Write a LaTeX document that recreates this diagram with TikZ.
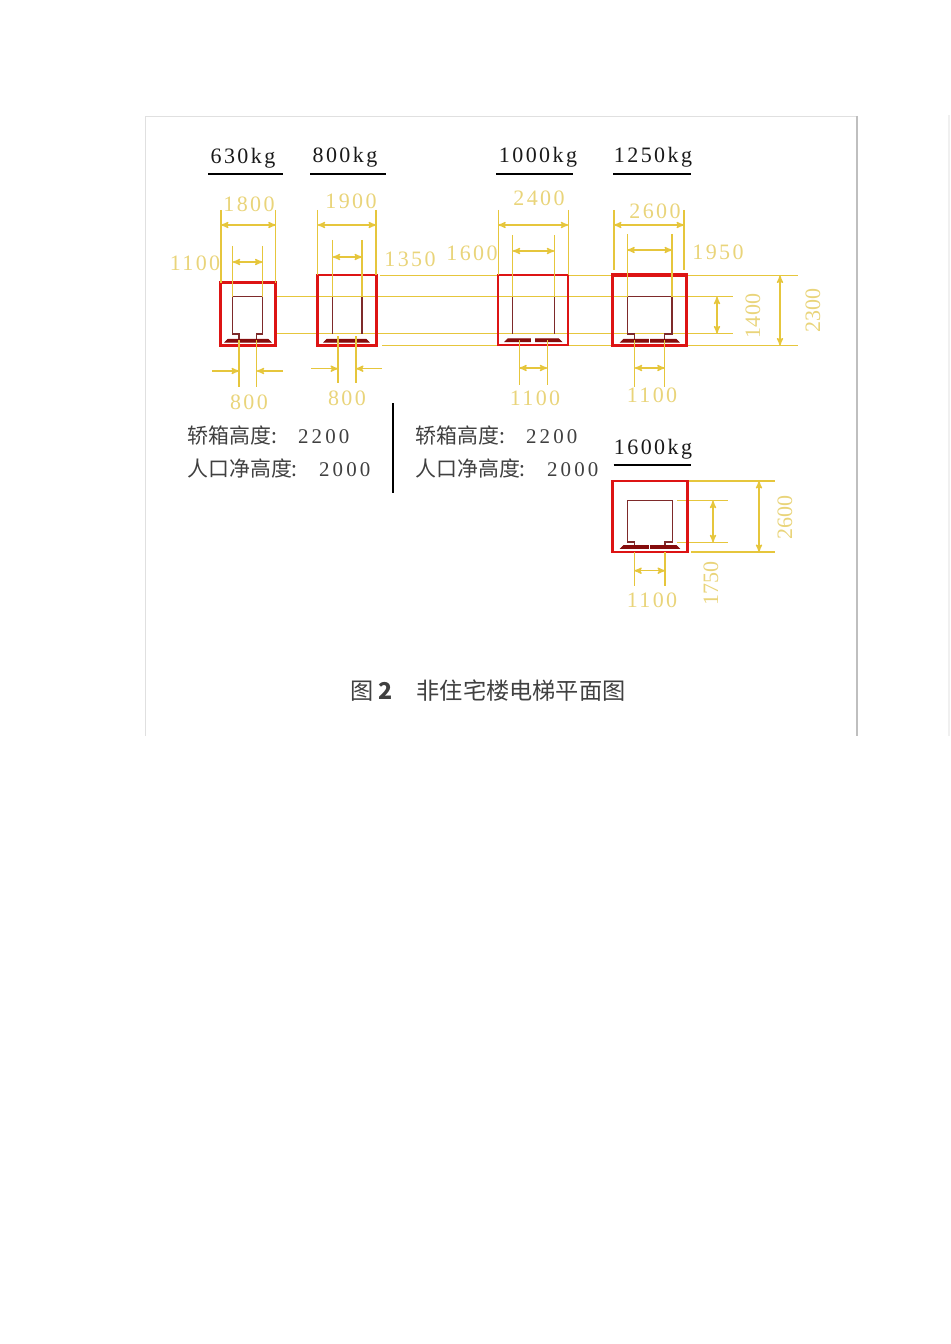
\documentclass[tikz,border=0pt]{standalone}
\usepackage{fontspec}
\setmainfont{Liberation Serif}
\newfontfamily\dimfont[LetterSpace=11]{Liberation Serif}
\newfontfamily\notefont[LetterSpace=15]{Liberation Serif}
\newfontfamily\cjk{Noto Sans CJK SC}
\usetikzlibrary{arrows}
\definecolor{dimyellow}{HTML}{E6C63C}
\definecolor{dimtext}{HTML}{E9D47A}
\definecolor{shaftred}{HTML}{DD1414}
\definecolor{cardark}{HTML}{7E2A2A}
\tikzset{>=stealth',
    dimline/.style={dimyellow, line width=1pt},
    dimarrow/.style={dimline, <->},
    dimlabel/.style={text=dimtext, font=\dimfont\fontsize{16.5}{18}\selectfont, inner sep=0pt},
    sidelabel/.style={text=dimtext, font=\fontsize{16.5}{18}\selectfont, inner sep=0pt, rotate=90},
    loadlabel/.style={text=black!90, font=\dimfont\fontsize{16.5}{18}\selectfont, inner sep=0pt},
    note/.style={text=black!75, font=\cjk\fontsize{15.7}{18}\selectfont, inner sep=0pt, anchor=west},
    shaft/.style={draw=shaftred},
    car/.style={draw=cardark, line width=1.1pt},
    sill/.style={draw=shaftred!60!black, fill=shaftred!60!black, line width=0.6pt}}

\begin{document}
\begin{tikzpicture}[x=0.75pt, y=-0.75pt]
    \useasboundingbox (0,0) rectangle (950,1344);
    \draw[black!12, line width=0.6pt] (145,736) -- (145,116) -- (857,116);
    \draw[black!25, line width=0.8pt] (857,116) -- (857,736);
    \draw[black!6, line width=0.8pt] (949,115) -- (949,736);

    % long extension lines behind the shafts
    \draw[dimline] (380,275.5) -- (798,275.5);
    \draw[dimline] (275,296.7) -- (733,296.7);
    \draw[dimline] (275,333.5) -- (733,333.5);
    \draw[dimline] (382,345.5) -- (798,345.5);
    \draw[dimline] (687,481) -- (775,481);
    \draw[dimline] (691,552) -- (775,552);
    \draw[dimline] (677,500.7) -- (728,500.7);
    \draw[dimline] (677,542.3) -- (728,542.3);

    % shaft walls and sills
    \foreach \shl/\shr/\sht/\shb/\sia/\sib/\shw in {
        220.7/275.7/282.7/345.7/225/271/2,
        317.7/376.7/275/345.7/324/369/2.2,
        498.3/568.3/275/345.3/505/561.7/1.5,
        612.7/686.7/275/345.7/620.7/679/2.4,
        612.7/687.3/481/552/620.7/679.3/2.2}{
        \draw[shaft, line width=\shw pt] (\shl,\sht) rectangle (\shr,\shb);
        \draw[sill] (\sia,\shb-3.5) -- (\sia+3,\shb-6.5) -- (\sib-3,\shb-6.5) -- (\sib,\shb-3.5) -- cycle;
    }

    % car outlines
    \draw[car] (239,339) -- (239,334) -- (232.7,334) -- (232.7,296.7) -- (262.3,296.7) -- (262.3,334) -- (256.7,334) -- (256.7,339);
    \draw[car] (332.7,333.5) -- (332.7,297);
    \draw[car] (362,333.5) -- (362,297);
    \draw[car] (512.7,333.5) -- (512.7,297);
    \draw[car] (554.3,333.5) -- (554.3,297);
    \draw[car] (634.7,339) -- (634.7,334) -- (627.3,334) -- (627.3,296.7) -- (672,296.7) -- (672,334) -- (664.7,334) -- (664.7,339);
    \draw[car] (634.3,545) -- (634.3,542) -- (627.7,542) -- (627.7,500.7) -- (672.3,500.7) -- (672.3,542) -- (665,542) -- (665,545);

    % gaps between door leaves
    \draw[white, line width=2.5pt] (533,337) -- (533,343);
    \draw[white, line width=1.2pt] (649.5,337) -- (649.5,343);
    \draw[white, line width=1pt] (649.5,544) -- (649.5,549);

    % extension lines above and below
    \foreach \x/\ya/\yb in {
        221/210/283, 275.7/210/283, 232.7/246/297, 262.5/246/297, 239/340/387, 256.7/340/387,
        317.7/210/275, 376/210/275, 332.7/240/297, 362/240/297, 338/336/383, 356/336/383,
        498.3/210/275, 568.3/210/275, 512.7/235/297, 554.3/235/297, 519.3/340/385, 547.3/340/385,
        614/210/270, 684/210/270, 627.3/234/297, 672/234/297, 634.7/340/387, 664.7/340/387,
        634.3/552/586, 665/552/586}
        \draw[dimline] (\x,\ya) -- (\x,\yb);

    % dimension arrows
    \foreach \xa/\xb/\y in {
        221/275.7/225, 232.7/262.5/262,
        317.7/376/225, 332.7/362/257,
        498.3/568.3/225, 512.7/554.3/251, 519.3/547.3/368,
        614/684/225, 627.3/672/250, 634.7/664.7/368,
        634.3/665/570.7}
        \draw[dimarrow] (\xa,\y) -- (\xb,\y);
    \foreach \x/\ya/\yb in {717/296.7/333.5, 780/275.5/345.5, 713/500.7/542.3, 759/481/552}
        \draw[dimarrow] (\x,\ya) -- (\x,\yb);
    \draw[dimline, ->] (212,371) -- (239,371);
    \draw[dimline, ->] (283,371) -- (256.7,371);
    \draw[dimline, ->] (311,368.7) -- (338,368.7);
    \draw[dimline, ->] (382,368.7) -- (356,368.7);

    % load labels with rules
    \foreach \name/\txt/\x/\y/\la/\lb/\ly in {
        kgA/630kg/243/158/208/283/174.5,
        kgB/800kg/345/157/310/386/174.5,
        kgC/1000kg/538/157/496/573/174.5,
        kgD/1250kg/653/157/613/691/174.5,
        kgE/1600kg/653/449/613.5/691/464.5}{
        \node[loadlabel] (\name) at (\x,\y) {\txt};
        \draw[black, line width=1.5pt] (\la,\ly) -- (\lb,\ly);
    }

    % dimension labels
    \node[dimlabel] (wA) at (249,204) {1800};
    \node[dimlabel] (wB) at (351,201) {1900};
    \node[dimlabel] (wC) at (539,198) {2400};
    \node[dimlabel] (wD) at (655,211) {2600};
    \node[dimlabel] (cA) at (195,263) {1100};
    \node[dimlabel] (cB) at (410,259) {1350};
    \node[dimlabel] (cC) at (472,253) {1600};
    \node[dimlabel] (cD) at (718,252) {1950};
    \node[dimlabel] (dA) at (249,402) {800};
    \node[dimlabel] (dB) at (347,398) {800};
    \node[dimlabel] (dC) at (535,398) {1100};
    \node[dimlabel] (dD) at (652,395) {1100};
    \node[dimlabel] (dE) at (652,600) {1100};
    \node[sidelabel] (hA) at (753,316) {1400};
    \node[sidelabel] (hB) at (813,310) {2300};
    \node[sidelabel] (hC) at (785,517) {2600};
    \node[sidelabel] (hD) at (711,583) {1750};

    % notes
    \node[note] (noteA) at (187,436) {轿箱高度:\hspace{16pt}{\notefont 2200}};
    \node[note] (noteB) at (187,468) {人口净高度:\hspace{16pt}{\notefont 2000}};
    \node[note] (noteC) at (415,436) {轿箱高度:\hspace{16pt}{\notefont 2200}};
    \node[note] (noteD) at (415,468) {人口净高度:\hspace{16pt}{\notefont 2000}};
    \draw[black, line width=0.8pt] (393,403) -- (393,493);

    \node[note, font=\cjk\fontsize{17.4}{20}\selectfont] (caption) at (350,691) {图 {\bfseries 2}\hspace{18pt}非住宅楼电梯平面图};
\end{tikzpicture}
\end{document}
